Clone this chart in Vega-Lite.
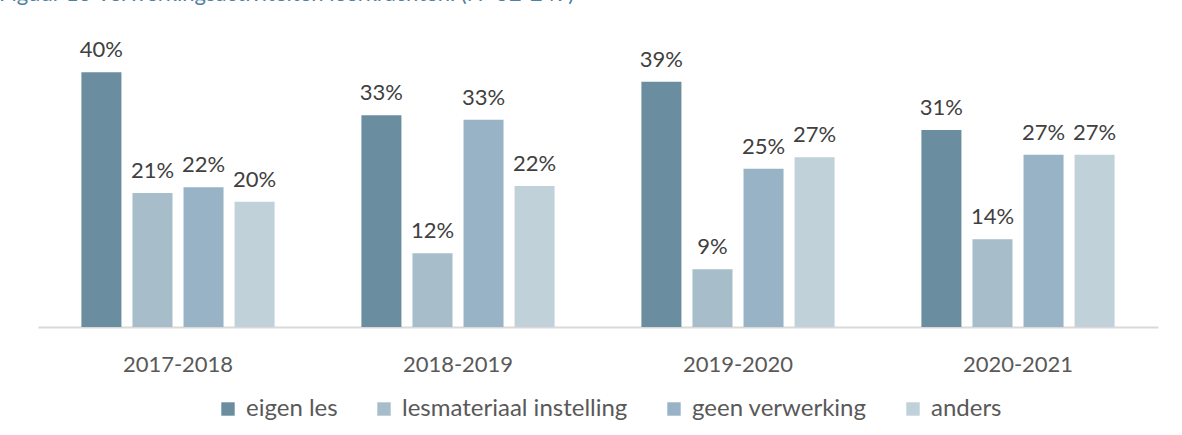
{
  "$schema": "https://vega.github.io/schema/vega-lite/v6.json",
  "width": 1120,
  "height": 286,
  "autosize": {"type": "none"},
  "padding": {"left": 38, "top": 41, "right": 24, "bottom": 108},
  "background": "white",
  "title": {
    "text": "Figuur 13 Verwerkingsactiviteiten leerkrachten. (N=52-249)",
    "anchor": "start",
    "frame": "group",
    "orient": "top",
    "baseline": "alphabetic",
    "offset": 16,
    "dx": -39,
    "font": "Lato",
    "fontSize": 22,
    "fontWeight": "normal",
    "color": "#4f81a0"
  },
  "data": {
    "values": [
      {"jaar": "2017-2018", "cat": "eigen les", "waarde": 0.401},
      {"jaar": "2017-2018", "cat": "lesmateriaal instelling", "waarde": 0.211},
      {"jaar": "2017-2018", "cat": "geen verwerking", "waarde": 0.220},
      {"jaar": "2017-2018", "cat": "anders", "waarde": 0.197},
      {"jaar": "2018-2019", "cat": "eigen les", "waarde": 0.333},
      {"jaar": "2018-2019", "cat": "lesmateriaal instelling", "waarde": 0.116},
      {"jaar": "2018-2019", "cat": "geen verwerking", "waarde": 0.326},
      {"jaar": "2018-2019", "cat": "anders", "waarde": 0.222},
      {"jaar": "2019-2020", "cat": "eigen les", "waarde": 0.386},
      {"jaar": "2019-2020", "cat": "lesmateriaal instelling", "waarde": 0.091},
      {"jaar": "2019-2020", "cat": "geen verwerking", "waarde": 0.249},
      {"jaar": "2019-2020", "cat": "anders", "waarde": 0.267},
      {"jaar": "2020-2021", "cat": "eigen les", "waarde": 0.310},
      {"jaar": "2020-2021", "cat": "lesmateriaal instelling", "waarde": 0.138},
      {"jaar": "2020-2021", "cat": "geen verwerking", "waarde": 0.271},
      {"jaar": "2020-2021", "cat": "anders", "waarde": 0.271}
    ]
  },
  "encoding": {
    "x": {
      "field": "jaar",
      "type": "nominal",
      "sort": null,
      "title": null,
      "scale": {"paddingInner": 0.31, "paddingOuter": 0.155},
      "axis": {
        "labelAngle": 0,
        "ticks": false,
        "domainColor": "#d9d9d9",
        "domainWidth": 2,
        "labelFont": "Lato",
        "labelFontSize": 22,
        "labelColor": "#595959",
        "labelPadding": 27
      }
    },
    "xOffset": {
      "field": "cat",
      "type": "nominal",
      "sort": ["eigen les", "lesmateriaal instelling", "geen verwerking", "anders"],
      "scale": {"paddingInner": 0.216, "paddingOuter": 0}
    },
    "y": {
      "field": "waarde",
      "type": "quantitative",
      "scale": {"domain": [0, 0.45], "nice": false},
      "axis": null
    }
  },
  "layer": [
    {
      "mark": {"type": "bar"},
      "encoding": {
        "color": {
          "field": "cat",
          "type": "nominal",
          "sort": ["eigen les", "lesmateriaal instelling", "geen verwerking", "anders"],
          "scale": {
            "domain": ["eigen les", "lesmateriaal instelling", "geen verwerking", "anders"],
            "range": ["#6a8ea0", "#a7bdc9", "#97b3c5", "#c0d1da"]
          },
          "legend": {
            "title": null,
            "orient": "none",
            "legendX": 178,
            "legendY": 356,
            "direction": "horizontal",
            "symbolType": "square",
            "symbolSize": 180,
            "symbolStrokeWidth": 0,
            "labelFont": "Lato",
            "labelFontSize": 24,
            "labelColor": "#595959",
            "columnPadding": 34,
            "labelOffset": 6,
            "labelLimit": 400
          }
        }
      }
    },
    {
      "mark": {
        "type": "text",
        "baseline": "bottom",
        "dy": -10,
        "font": "Lato",
        "fontSize": 22,
        "color": "#404040"
      },
      "encoding": {
        "text": {"field": "waarde", "type": "quantitative", "format": ".0%"},
        "detail": {"field": "cat"}
      }
    }
  ],
  "config": {
    "view": {"stroke": null},
    "legend": {"labelFontSize": 24, "labelFont": "Lato"}
  }
}
